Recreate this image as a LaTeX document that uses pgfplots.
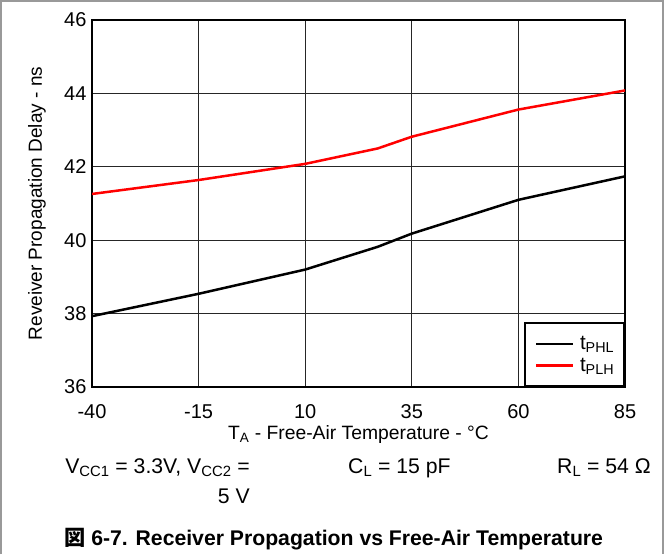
\documentclass[border=0pt]{standalone}
\usepackage{pgfplots}
\pgfplotsset{compat=1.18}
\usepackage{fontspec}
\setmainfont{Liberation Sans}
\newfontfamily\cjk{Noto Sans CJK JP}
\newcommand{\fs}{\fontsize{20}{23}\selectfont}
\newcommand{\fsl}{\fontsize{19.3}{22}\selectfont}
\newcommand{\fsb}{\fontsize{21.2}{24}\selectfont}
\begin{document}
\begin{tikzpicture}
\useasboundingbox (0pt,0pt) rectangle (668pt,-554pt);
\fill[white] (0pt,0pt) rectangle (668pt,-554pt);
\draw[gray!80, line width=1.5pt] (1pt,-554pt) -- (1pt,-1pt) -- (663pt,-1pt) -- (663pt,-554pt);
\begin{axis}[
  at={(92pt,-387pt)}, anchor=south west,
  width=533pt, height=367pt, scale only axis,
  xmin=-40, xmax=85, ymin=36, ymax=46,
  xtick={-40,-15,10,35,60,85}, ytick={36,38,40,42,44,46},
  grid=major, major grid style={black!85, line width=0.8pt},
  axis line style={line width=2.4pt},
  tick style={draw=none},
  ticklabel style={font=\fs},
  /pgf/number format/assume math mode=true,
  xticklabel style={anchor=base, yshift=-31pt},
  yticklabel style={anchor=east, xshift=-2pt},
  xlabel={T\textsubscript{A} - Free-Air Temperature - °C},
  ylabel={Reveiver Propagation Delay - ns},
  every axis x label/.style={at={(axis description cs:0.5,-0.1417)}, anchor=base, font=\fsl},
  every axis y label/.style={at={(axis description cs:-0.1032,0.5)}, rotate=90, anchor=center, font=\fontsize{19}{22}\selectfont},
  legend style={at={(1,0)}, anchor=south east, draw=black, line width=1.8pt,
    font=\fontsize{20.5}{23}\selectfont, inner xsep=10pt, inner ysep=10pt,
    row sep=0pt, column sep=0pt, nodes={inner sep=0pt}},
  legend cell align=left,
  legend image code/.code={\path[draw=none, fill=none] (0pt,-10.7pt) rectangle (44pt,10.7pt); \draw[#1, line width=2.2pt] (0pt,0pt) -- (37pt,0pt);},
]
\addplot[black, line width=2.5pt] coordinates {
(-40,37.93) (-15,38.54) (10,39.20) (27,39.82) (35,40.18) (60,41.10) (85,41.74)};
\addlegendentry{t\textsubscript{PHL}}
\addplot[red, line width=2.5pt] coordinates {
(-40,41.26) (-15,41.64) (10,42.08) (27,42.50) (35,42.82) (60,43.56) (85,44.08)};
\addlegendentry{t\textsubscript{PLH}}
\end{axis}
\node[anchor=base east, inner sep=0pt, font=\fsb] at (250pt,-473pt) {V\textsubscript{CC1} = 3.3V, V\textsubscript{CC2} =};
\node[anchor=base east, inner sep=0pt, font=\fsb] at (250pt,-503pt) {5 V};
\node[anchor=base west, inner sep=0pt, font=\fsb] at (348pt,-473pt) {C\textsubscript{L} = 15 pF};
\node[anchor=base west, inner sep=0pt, font=\fsb] at (557pt,-473pt) {R\textsubscript{L} = 54 Ω};
\node[anchor=base west, inner sep=0pt, font=\fsb\bfseries] at (64pt,-545pt) {{\cjk 図} 6-7. Receiver Propagation vs Free-Air Temperature};
\end{tikzpicture}
\end{document}
